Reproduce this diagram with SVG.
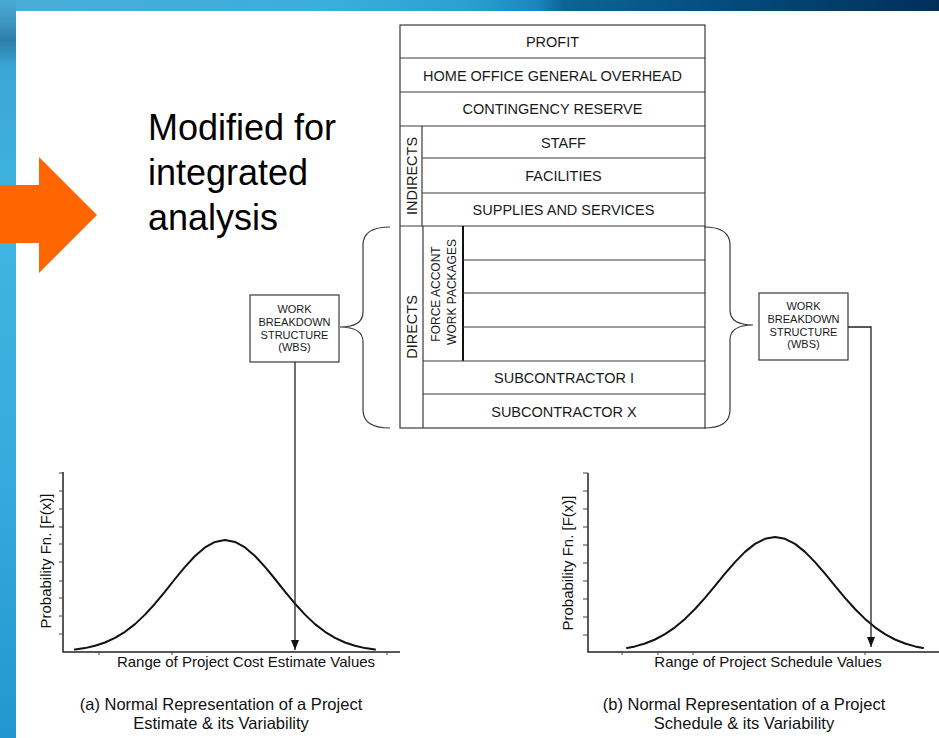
<svg xmlns="http://www.w3.org/2000/svg" width="939" height="738" viewBox="0 0 939 738">
  <defs>
    <linearGradient id="topband" x1="0" y1="0" x2="1" y2="0">
      <stop offset="0" stop-color="#4aacd8"/>
      <stop offset="0.35" stop-color="#3baedd"/>
      <stop offset="0.5" stop-color="#2b9fd0"/>
      <stop offset="0.57" stop-color="#1a88be"/>
      <stop offset="0.6" stop-color="#0c6594"/>
      <stop offset="0.78" stop-color="#034b7c"/>
      <stop offset="1" stop-color="#002f5c"/>
    </linearGradient>
    <linearGradient id="leftband" x1="0" y1="0" x2="0" y2="1">
      <stop offset="0" stop-color="#4aaad6"/>
      <stop offset="0.03" stop-color="#3f96c1"/>
      <stop offset="0.055" stop-color="#2c7eaa"/>
      <stop offset="0.09" stop-color="#3aa6d6"/>
      <stop offset="0.3" stop-color="#40b5e2"/>
      <stop offset="0.65" stop-color="#36aadc"/>
      <stop offset="1" stop-color="#2297cf"/>
    </linearGradient>
    <marker id="ah" viewBox="0 0 10 8" refX="10" refY="4" markerWidth="10" markerHeight="8" orient="auto" markerUnits="userSpaceOnUse">
      <path d="M0,0 L10,4 L0,8 z" fill="#111"/>
    </marker>
    <style>
      .ln { stroke: #3a3a3a; stroke-width: 1.2; fill: none; }
      .st { font-family: "Liberation Sans", Arial, sans-serif; font-size: 14.5px; fill: #1a1a1a; text-anchor: middle; }
      .fa { font-family: "Liberation Sans", Arial, sans-serif; font-size: 12px; fill: #1a1a1a; text-anchor: middle; }
      .wbs { font-family: "Liberation Sans", Arial, sans-serif; font-size: 11px; fill: #1a1a1a; text-anchor: middle; }
      .gl { font-family: "Liberation Sans", Arial, sans-serif; font-size: 15px; fill: #111; text-anchor: middle; }
      .cap { font-family: "Liberation Sans", Arial, sans-serif; font-size: 16.5px; fill: #111; text-anchor: middle; }
      .ax { stroke: #222; stroke-width: 1.5; fill: none; }
      .tk { stroke: #444; stroke-width: 1; fill: none; }
      .curve { stroke: #111; stroke-width: 2; fill: none; stroke-linejoin: round; stroke-linecap: round; }
      .conn { stroke: #222; stroke-width: 1.3; fill: none; }
    </style>
  </defs>

  <!-- background -->
  <rect x="0" y="0" width="939" height="738" fill="#ffffff"/>
  <rect x="0" y="0" width="939" height="11" fill="url(#topband)"/>
  <rect x="0" y="0" width="16" height="738" fill="url(#leftband)"/>

  <!-- orange arrow -->
  <g id="orange-arrow">
    <polygon points="0,185 39,185 39,157 97,215 39,273 39,243 0,243" fill="#ff6600"/>
  </g>

  <!-- title text -->
  <g id="note">
    <text font-family="Liberation Sans, Arial, sans-serif" font-size="36" fill="#000">
      <tspan x="148" y="140">Modified for</tspan>
      <tspan x="148" y="185">integrated</tspan>
      <tspan x="148" y="230">analysis</tspan>
    </text>
  </g>

  <!-- cost stack -->
  <g id="cost-stack">
    <rect class="ln" x="400" y="25" width="305" height="403"/>
    <line class="ln" x1="400" y1="58" x2="705" y2="58"/>
    <line class="ln" x1="400" y1="92" x2="705" y2="92"/>
    <line class="ln" x1="400" y1="126" x2="705" y2="126"/>
    <line class="ln" x1="422" y1="126" x2="422" y2="226"/>
    <line class="ln" x1="422" y1="158" x2="705" y2="158"/>
    <line class="ln" x1="422" y1="193" x2="705" y2="193"/>
    <line class="ln" x1="400" y1="226" x2="705" y2="226"/>
    <line class="ln" x1="423" y1="226" x2="423" y2="428"/>
    <line x1="463" y1="226" x2="463" y2="361" stroke="#111" stroke-width="2"/>
    <line class="ln" x1="463" y1="260" x2="705" y2="260"/>
    <line class="ln" x1="463" y1="293" x2="705" y2="293"/>
    <line class="ln" x1="463" y1="327" x2="705" y2="327"/>
    <line class="ln" x1="423" y1="361" x2="705" y2="361"/>
    <line class="ln" x1="423" y1="394" x2="705" y2="394"/>

    <text class="st" x="552.5" y="47">PROFIT</text>
    <text class="st" x="552.5" y="80.5">HOME OFFICE GENERAL OVERHEAD</text>
    <text class="st" x="552.5" y="114">CONTINGENCY RESERVE</text>
    <text class="st" x="563.5" y="147.5">STAFF</text>
    <text class="st" x="563.5" y="181">FACILITIES</text>
    <text class="st" x="563.5" y="215">SUPPLIES AND SERVICES</text>
    <text class="st" x="564" y="383">SUBCONTRACTOR I</text>
    <text class="st" x="564" y="416.5">SUBCONTRACTOR X</text>
    <text class="st" transform="translate(417,176) rotate(-90)">INDIRECTS</text>
    <text class="st" transform="translate(417,327) rotate(-90)">DIRECTS</text>
    <text class="fa" transform="translate(440,294) rotate(-90)">FORCE ACCONT</text>
    <text class="fa" transform="translate(456,292) rotate(-90)">WORK PACKAGES</text>
  </g>

  <!-- braces -->
  <g id="brace-left">
    <path class="ln" d="M390,227 Q363,227 363,245 L363,312 Q363,327 340,327 Q363,327 363,342 L363,410 Q363,428 390,428"/>
  </g>
  <g id="brace-right">
    <path class="ln" d="M704,227 Q730,227 730,245 L730,310 Q730,325 753,325 Q730,325 730,340 L730,410 Q730,428 704,428"/>
  </g>

  <!-- WBS boxes -->
  <g id="wbs-left">
    <rect class="ln" x="250" y="295" width="89" height="67"/>
    <text class="wbs" x="294.5" y="313">WORK</text>
    <text class="wbs" x="294.5" y="326">BREAKDOWN</text>
    <text class="wbs" x="294.5" y="338.5">STRUCTURE</text>
    <text class="wbs" x="294.5" y="351">(WBS)</text>
  </g>
  <g id="wbs-right">
    <rect class="ln" x="759" y="293" width="89" height="67"/>
    <text class="wbs" x="803.5" y="310">WORK</text>
    <text class="wbs" x="803.5" y="323">BREAKDOWN</text>
    <text class="wbs" x="803.5" y="335.5">STRUCTURE</text>
    <text class="wbs" x="803.5" y="348">(WBS)</text>
  </g>

  <!-- left graph -->
  <g id="graph-cost">
    <polyline class="ax" points="63,472 63,652 400,652"/>
    <path class="tk" d="M59,473 H63 M59,491 H63 M59,509 H63 M59,527 H63 M59,544 H63 M59,562 H63 M59,581 H63 M59,598 H63 M59,616 H63 M59,634 H63 M99,652 V655 M172,652 V655 M387,652 V655"/>
    <polyline class="curve" points="75,649.6 85,648.1 95,645.8 105,642.5 115,637.9 125,631.8 135,624.1 145,614.6 155,603.7 165,591.6 175,579 185,566.9 195,556 205,547.4 215,541.9 225,540 235,541.9 245,547.4 255,556 265,566.9 275,579 285,591.6 295,603.7 305,614.6 315,624.1 325,631.8 335,637.9 345,642.5 355,645.8 365,648.1 375,649.6"/>
    <text class="gl" transform="translate(51,561) rotate(-90)">Probability Fn. [F(x)]</text>
    <text class="gl" x="246" y="667">Range of Project Cost Estimate Values</text>
  </g>

  <!-- right graph -->
  <g id="graph-schedule">
    <polyline class="ax" points="588,473 588,652 939,652"/>
    <path class="tk" d="M583,473 H588 M583,491 H588 M583,509 H588 M583,527 H588 M583,545 H588 M583,563 H588 M583,581 H588 M583,599 H588 M583,617 H588 M583,635 H588 M622,652 V655 M658,652 V655 M693,652 V655 M865,652 V655"/>
    <polyline class="curve" points="627,648 635,646.4 645,643.5 655,639.5 665,634.1 675,627.3 685,618.9 695,609 705,597.9 715,585.9 725,573.7 735,562.1 745,551.9 755,543.9 765,538.8 775,537 785,538.8 795,543.9 805,551.9 815,562.1 825,573.7 835,585.9 845,597.9 855,609 865,618.9 875,627.3 885,634.1 895,639.5 905,643.5 915,646.4 923,648"/>
    <text class="gl" transform="translate(573,563) rotate(-90)">Probability Fn. [F(x)]</text>
    <text class="gl" x="768" y="667">Range of Project Schedule Values</text>
  </g>

  <!-- connectors -->
  <g id="connectors">
    <line class="conn" x1="295" y1="362" x2="295" y2="650" marker-end="url(#ah)"/>
    <polyline class="conn" points="848,327 871,327 871,647" marker-end="url(#ah)"/>
  </g>

  <!-- captions -->
  <g id="caption-a">
    <text class="cap" x="221" y="710">(a) Normal Representation of a Project</text>
    <text class="cap" x="221" y="729">Estimate &amp; its Variability</text>
  </g>
  <g id="caption-b">
    <text class="cap" x="744" y="710">(b) Normal Representation of a Project</text>
    <text class="cap" x="744" y="729">Schedule &amp; its Variability</text>
  </g>
</svg>
